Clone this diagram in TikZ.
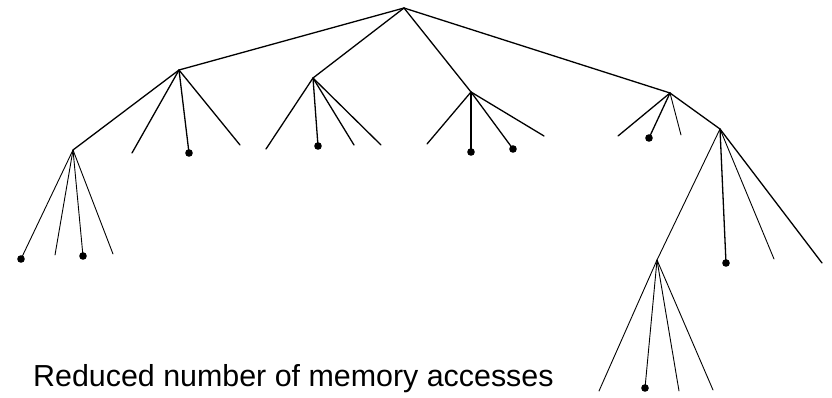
\documentclass[tikz,border=0pt]{standalone}
\usepackage{fontspec}
\setmainfont{Liberation Sans}
\begin{document}
\begin{tikzpicture}[x=1pt,y=-1pt,
  branch/.style={line width=1.3pt,line cap=round},
  twig/.style={line width=0.9pt,line cap=round},
  hit/.style={fill=black},
  caption/.style={anchor=base west,inner sep=0pt,font=\fontsize{30.4}{34}\selectfont}]
\useasboundingbox (0,0) rectangle (832,398);

% internal nodes
\coordinate (root) at (404,8);
\coordinate (a) at (179,70);
\coordinate (b) at (313,78);
\coordinate (c) at (471,92);
\coordinate (d) at (670,93);
\coordinate (a1) at (73,150);
\coordinate (d1) at (720,129);
\coordinate (d2) at (657,260);

% leaves below a
\coordinate (a2) at (132,153);
\coordinate (a3) at (189,153);
\coordinate (a4) at (240,145);
% leaves below a1
\coordinate (a11) at (21,259);
\coordinate (a12) at (55,255);
\coordinate (a13) at (83,256);
\coordinate (a14) at (113,254);
% leaves below b
\coordinate (b1) at (266,149);
\coordinate (b2) at (318,146);
\coordinate (b3) at (354,145);
\coordinate (b4) at (381,145);
% leaves below c
\coordinate (c1) at (427,144);
\coordinate (c2) at (471,152);
\coordinate (c3) at (513,149);
\coordinate (c4) at (544,136);
% leaves below d
\coordinate (d3) at (618,136);
\coordinate (d4) at (649,138);
\coordinate (d5) at (681,135);
% leaves below d1
\coordinate (d12) at (726,263);
\coordinate (d13) at (774,259);
\coordinate (d14) at (822,263);
% leaves below d2
\coordinate (d21) at (599,391);
\coordinate (d22) at (645,388);
\coordinate (d23) at (679,391);
\coordinate (d24) at (713,390);

% edges
\foreach \t in {a,b,c,d} \draw[branch] (root) -- (\t);
\foreach \t in {a1,a2,a3,a4} \draw[branch] (a) -- (\t);
\foreach \t in {a11,a12,a13,a14} \draw[twig] (a1) -- (\t);
\foreach \t in {b1,b2,b3,b4} \draw[branch] (b) -- (\t);
\foreach \t in {c1,c2,c3,c4} \draw[branch] (c) -- (\t);
\foreach \t in {d3,d4} \draw[branch] (d) -- (\t);
\draw[twig] (d) -- (d5);
\draw[branch] (d) -- (d1);
\draw[twig] (d1) -- (d2);
\draw[branch] (d1) -- (d12);
\draw[twig] (d1) -- (d13);
\draw[branch] (d1) -- (d14);
\foreach \t in {d21,d22,d23,d24} \draw[twig] (d2) -- (\t);

% accessed leaves
\foreach \t in {a3,a11,a13,b2,c2,c3,d4,d12,d22} \fill[hit] (\t) circle (3.8);

\node[caption] (label) at (33,386) {Reduced number of memory accesses};
\end{tikzpicture}
\end{document}
